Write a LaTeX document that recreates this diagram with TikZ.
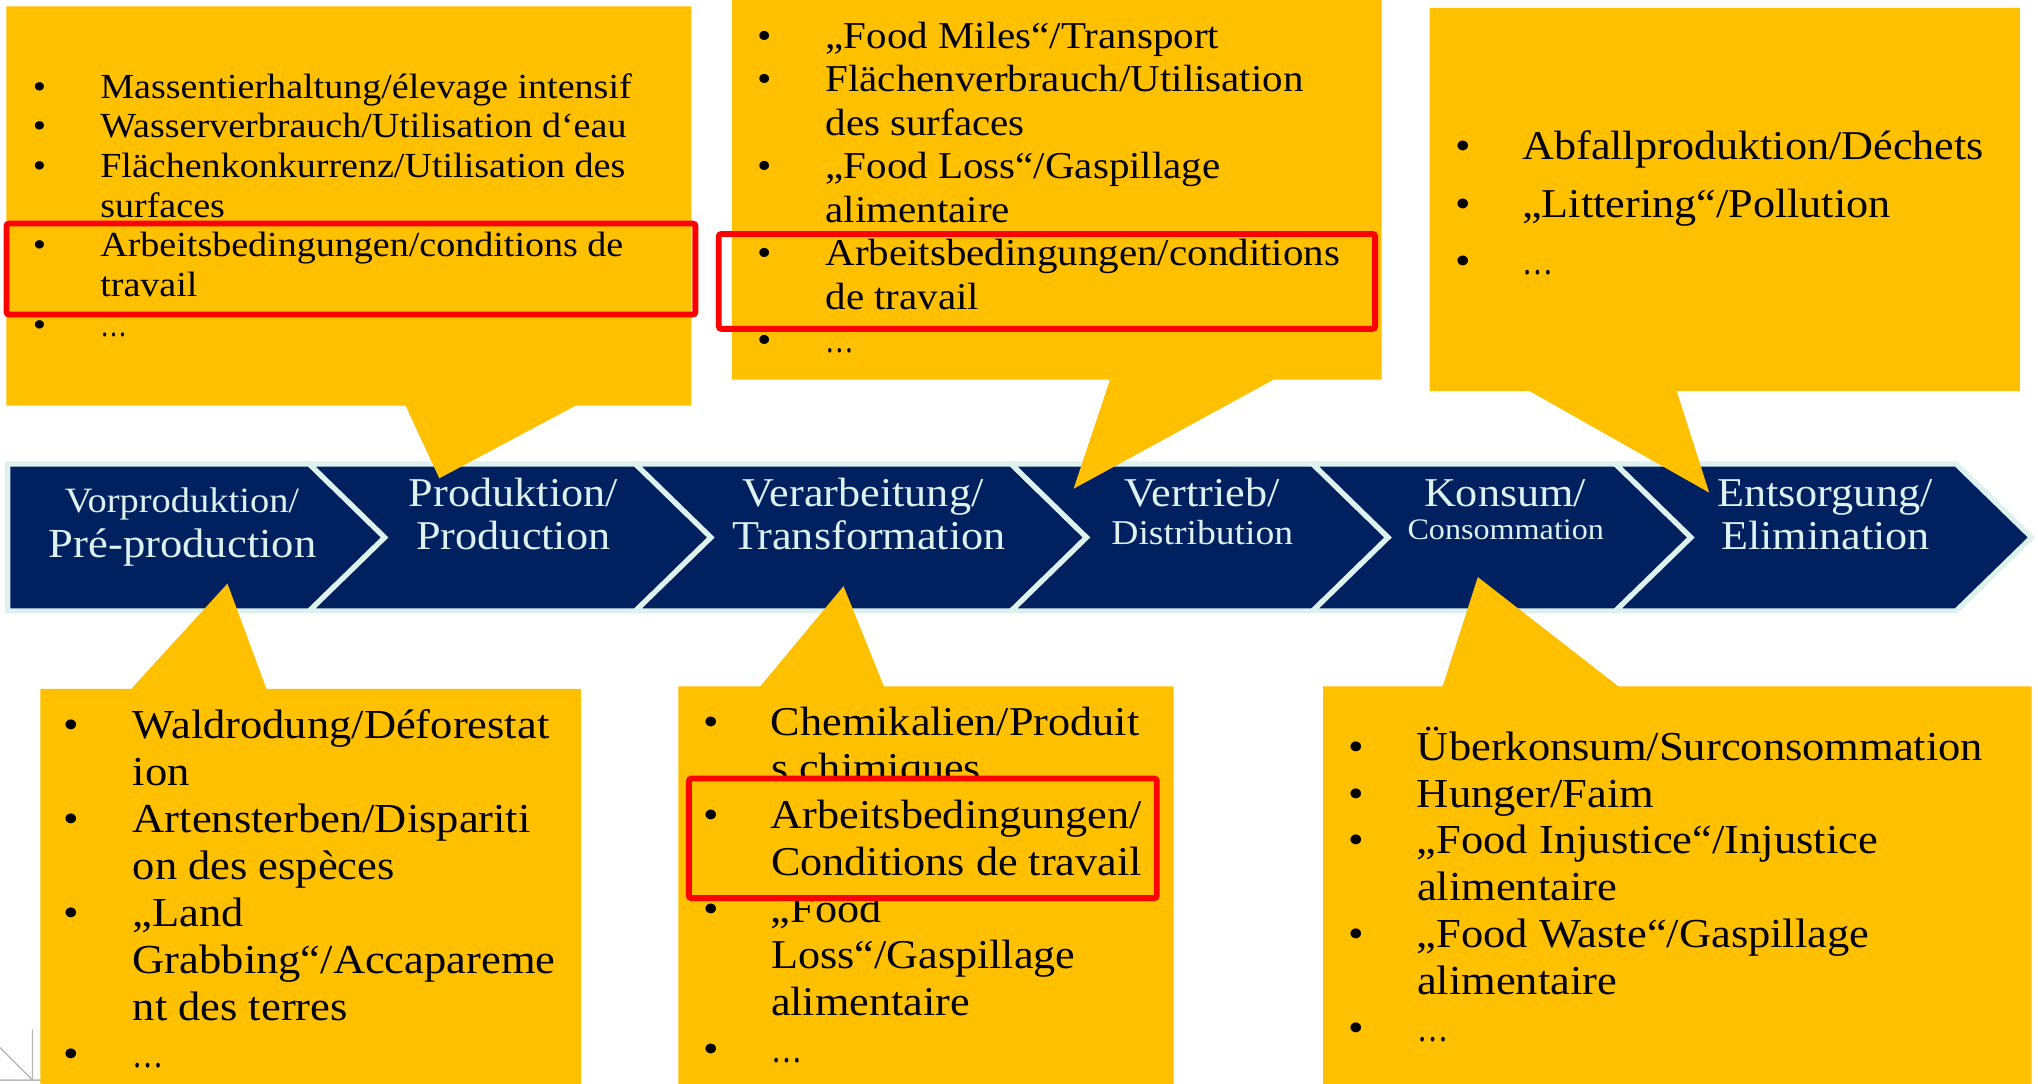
\documentclass[tikz,border=0pt]{standalone}
\usepackage{fontspec}
\usepackage{graphicx}
\setmainfont{Liberation Serif}[FakeStretch=1.08]
\definecolor{navy}{RGB}{0,32,96}
\definecolor{pale}{RGB}{221,242,238}
\definecolor{gold}{RGB}{255,192,0}
\definecolor{redb}{RGB}{255,0,0}
\definecolor{raygray}{RGB}{185,185,185}
\newlength\bw
\newcommand\bul{\makebox[\bw][l]{\textbullet}}
\newcommand\tightdots{\scalebox{0.7}[1]{…}}
\begin{document}
\begin{tikzpicture}[x=1pt,y=-1pt,
  chev/.style={fill=navy,draw=pale,line width=4pt,miter limit=2},
  callout/.style={fill=gold,draw=none},
  redbox/.style={draw=redb,line width=4.5pt,rounded corners=2pt},
  lst/.style={inner sep=0pt,anchor=base west,text=black},
  clab/.style={inner sep=0pt,anchor=base,text=pale},
  big/.style={font=\fontsize{31.5}{34}\selectfont}]
\clip (0,0) rectangle (1568,834);
\fill[white] (0,0) rectangle (1568,834);

% process band
\draw[chev] (6,357) -- (238,357) -- (296,413.5) -- (238,470) -- (6,470) -- cycle;
\draw[chev] (238,357) -- (489,357) -- (547,413.5) -- (489,470) -- (238,470) -- (296,413.5) -- cycle;
\draw[chev] (489,357) -- (778,357) -- (836,413.5) -- (778,470) -- (489,470) -- (547,413.5) -- cycle;
\draw[chev] (778,357) -- (1010,357) -- (1068,413.5) -- (1010,470) -- (778,470) -- (836,413.5) -- cycle;
\draw[chev] (1010,357) -- (1243,357) -- (1301,413.5) -- (1243,470) -- (1010,470) -- (1068,413.5) -- cycle;
\draw[chev] (1243,357) -- (1505,357) -- (1563,413.5) -- (1505,470) -- (1243,470) -- (1301,413.5) -- cycle;

\node[clab,font=\fontsize{27.4}{30}\selectfont] (c1a) at (140,394) {Vorproduktion/};
\node[clab,font=\fontsize{31.8}{34}\selectfont] (c1b) at (140.5,429) {Pré-production};
\node[clab,big] (c2a) at (395,390) {Produktion/};
\node[clab,big] (c2b) at (395,423) {Production};
\node[clab,big] (c3a) at (664,390) {Verarbeitung/};
\node[clab,big] (c3b) at (668.5,423) {Transformation};
\node[clab,big] (c4a) at (925,390) {Vertrieb/};
\node[clab,font=\fontsize{26.8}{30}\selectfont] (c4b) at (925,419) {Distribution};
\node[clab,big] (c5a) at (1158,390) {Konsum/};
\node[clab,font=\fontsize{22.9}{26}\selectfont] (c5b) at (1158.5,415) {Consommation};
\node[clab,big] (c6a) at (1404,390) {Entsorgung/};
\node[clab,big] (c6b) at (1404.5,423) {Elimination};

% small grey decoration, bottom left corner
\coordinate (rayc) at (25,831);
\draw[raygray,line width=1.1pt] (rayc) -- (25,792) (rayc) -- (0,806) (rayc) -- (0,831) (rayc) -- (40,831);

% callouts
\fill[callout] (5,5) -- (532,5) -- (532,312) -- (443,312) -- (338,368) -- (312,312) -- (5,312) -- cycle;
\fill[callout] (563,-5) -- (1063,-5) -- (1063,292) -- (980,292) -- (826,376) -- (854,292) -- (563,292) -- cycle;
\fill[callout] (1100,6) -- (1554,6) -- (1554,301) -- (1290,301) -- (1315,379) -- (1177,301) -- (1100,301) -- cycle;
\fill[callout] (31,530) -- (101,530) -- (175,449) -- (205,530) -- (447,530) -- (447,840) -- (31,840) -- cycle;
\fill[callout] (522,528) -- (585,528) -- (649,451) -- (680,528) -- (903,528) -- (903,840) -- (522,840) -- cycle;
\fill[callout] (1018,528) -- (1110,528) -- (1137,444) -- (1245,528) -- (1563,528) -- (1563,840) -- (1018,840) -- cycle;

% texts
\node[lst,font=\fontsize{27.1}{30.5}\selectfont] (tl) at (25,75.6) {\setlength\bw{52pt}%
\begin{tabular}[t]{@{}l@{}l@{}}
\bul & Massentierhaltung/élevage intensif\\
\bul & Wasserverbrauch/Utilisation d‘eau\\
\bul & Flächenkonkurrenz/Utilisation des\\
 & surfaces\\
\bul & Arbeitsbedingungen/conditions de\\
 & travail\\
\bul & \tightdots
\end{tabular}};

\node[lst,font=\fontsize{29.2}{33.5}\selectfont] (tm) at (582.5,37) {\setlength\bw{52.5pt}%
\begin{tabular}[t]{@{}l@{}l@{}}
\bul & „Food Miles“/Transport\\
\bul & Flächenverbrauch/Utilisation\\
 & des surfaces\\
\bul & „Food Loss“/Gaspillage\\
 & alimentaire\\
\bul & Arbeitsbedingungen/conditions\\
 & de travail\\
\bul & \tightdots
\end{tabular}};

\node[lst,font=\fontsize{31.5}{44}\selectfont] (tr) at (1120,123) {\setlength\bw{51pt}%
\begin{tabular}[t]{@{}l@{}l@{}}
\bul & Abfallproduktion/Déchets\\
\bul & „Littering“/Pollution\\
\bul & \tightdots
\end{tabular}};

\node[lst,font=\fontsize{31.7}{36.2}\selectfont] (bl) at (49,568) {\setlength\bw{53pt}%
\begin{tabular}[t]{@{}l@{}l@{}}
\bul & Waldrodung/Déforestat\\
 & ion\\
\bul & Artensterben/Dispariti\\
 & on des espèces\\
\bul & „Land\\
 & Grabbing“/Accapareme\\
 & nt des terres\\
\bul & \tightdots
\end{tabular}};

\node[lst,font=\fontsize{31.5}{36}\selectfont] (bm) at (541,565.5) {\setlength\bw{52pt}%
\begin{tabular}[t]{@{}l@{}l@{}}
\bul & Chemikalien/Produit\\
 & s chimiques\\
 & \\
 & \\
\bul & „Food\\
 & Loss“/Gaspillage\\
 & alimentaire\\
\bul & \tightdots
\end{tabular}};

\node[lst,font=\fontsize{31.7}{36}\selectfont] (br) at (1037,585) {\setlength\bw{53pt}%
\begin{tabular}[t]{@{}l@{}l@{}}
\bul & Überkonsum/Surconsommation\\
\bul & Hunger/Faim\\
\bul & „Food Injustice“/Injustice\\
 & alimentaire\\
\bul & „Food Waste“/Gaspillage\\
 & alimentaire\\
\bul & \tightdots
\end{tabular}};

% red highlight boxes
\draw[redbox] (5,172) rectangle (535,242);
\draw[redbox] (553,180) rectangle (1058,253);
\draw[redbox,fill=gold] (530,599) rectangle (890,691);
\node[lst,font=\fontsize{31.5}{36}\selectfont] (bmred) at (541,637.5) {\setlength\bw{52pt}%
\begin{tabular}[t]{@{}l@{}l@{}}
\bul & Arbeitsbedingungen/\\
 & Conditions de travail
\end{tabular}};
\end{tikzpicture}
\end{document}
